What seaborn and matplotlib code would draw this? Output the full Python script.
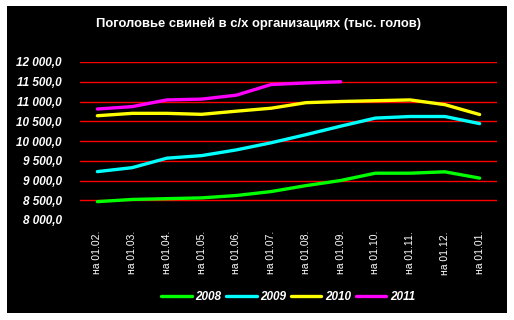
import matplotlib
matplotlib.use("Agg")
import matplotlib.pyplot as plt
import seaborn as sns
import pandas as pd
from matplotlib.patches import Rectangle
from matplotlib.ticker import FuncFormatter
from matplotlib.lines import Line2D

categories = ["на 01.02.", "на 01.03.", "на 01.04.", "на 01.05.", "на 01.06.", "на 01.07.",
              "на 01.08.", "на 01.09.", "на 01.10.", "на 01.11.", "на 01.12.", "на 01.01."]
v2008 = [8465, 8520, 8540, 8560, 8620, 8720, 8870, 9000, 9185, 9185, 9220, 9060]
v2009 = [9225, 9325, 9565, 9630, 9775, 9955, 10160, 10375, 10580, 10620, 10620, 10440]
v2010 = [10640, 10700, 10700, 10675, 10755, 10830, 10970, 11000, 11020, 11040, 10920, 10670]
v2011 = [10810, 10870, 11040, 11060, 11160, 11430, 11470, 11500]
years = ["2008", "2009", "2010", "2011"]
colors = ["#00FF00", "#00FFFF", "#FFFF00", "#FF00FF"]
yticks = [8000, 8500, 9000, 9500, 10000, 10500, 11000, 11500, 12000]
title = "Поголовье свиней в с/х организациях (тыс. голов)"

rows = []
for yr, vals in zip(years, [v2008, v2009, v2010, v2011]):
    for i, v in enumerate(vals):
        rows.append({"idx": i, "value": v, "year": yr})
df = pd.DataFrame(rows)

sns.set_theme(style="white")
plt.rcParams["font.family"] = ["Liberation Sans", "DejaVu Sans"]

fig = plt.figure(figsize=(5.14, 3.20), dpi=100)
fig.patch.set_facecolor("white")
fig.patches.append(Rectangle((7 / 514, 1 - 313 / 320), 500 / 514, 307 / 320,
                             transform=fig.transFigure, facecolor="black",
                             edgecolor="none", zorder=-10))
ax = fig.add_axes([80 / 514, 1 - 220 / 320, 417 / 514, 158 / 320])
ax.set_facecolor("black")

sns.lineplot(data=df, x="idx", y="value", hue="year", palette=colors,
             hue_order=years, linewidth=2.4, ax=ax, legend=False, zorder=3)

ax.set_xlim(-0.5, 11.5)
ax.set_ylim(8000, 12000)
ax.set_yticks(yticks)
ax.yaxis.set_major_formatter(FuncFormatter(
    lambda v, p: f"{int(v):,}".replace(",", " ") + ",0"))
for y in yticks[1:]:
    ax.axhline(y, color="#FF0000", linewidth=1.0, zorder=1)
ax.set_xticks(range(len(categories)))
ax.set_xticklabels(categories, rotation=90, color="white", fontsize=7.5)
for lab in ax.get_yticklabels():
    lab.set_color("white")
    lab.set_fontweight("bold")
    lab.set_fontstyle("italic")
    lab.set_fontsize(8.5)
ax.tick_params(axis="y", length=0, pad=13)
ax.tick_params(axis="x", length=0, pad=8)
for s in ax.spines.values():
    s.set_visible(False)
ax.set_xlabel("")
ax.set_ylabel("")
ax.grid(False)

fig.text(259 / 514, 1 - 24 / 320, title, color="white", fontsize=9.4,
         fontweight="bold", ha="center", va="center")

handles = [Line2D([0], [0], color=c, linewidth=2.4) for c in colors]
leg = fig.legend(handles, years, loc="center", bbox_to_anchor=(288 / 514, 1 - 297 / 320),
                 ncol=4, frameon=False, handlelength=2.6, columnspacing=0.4,
                 handletextpad=0.3, prop={"weight": "bold", "style": "italic", "size": 8.5})
for t in leg.get_texts():
    t.set_color("white")

fig.savefig("out.png", dpi=100, facecolor=fig.get_facecolor())
